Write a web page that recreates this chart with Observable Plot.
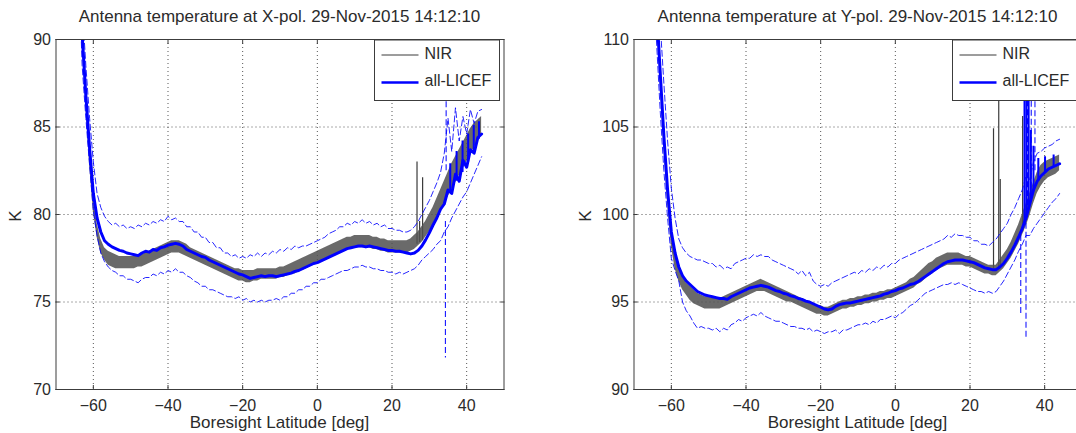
<!DOCTYPE html>
<html>
<head>
<meta charset="utf-8">
<script src="https://cdn.jsdelivr.net/npm/d3@7"></script>
<script src="https://cdn.jsdelivr.net/npm/@observablehq/plot@0.6"></script>
<style>
  body { margin: 0; background: #fff; }
  #wrap { position: relative; width: 1076px; height: 433px; overflow: hidden; font-family: "Liberation Sans", Arial, sans-serif; }
  #wrap svg { position: absolute; top: 0; max-width: none; }
</style>
</head>
<body>
<div id="wrap"></div>
<script>
// ---------- data ----------
const lat = [-64,-63,-62,-61,-60,-59,-58,-57,-56,-55,
  -54,-53,-52,-51,-50,-49,-48,-47,-46,-45,
  -44,-43,-42,-41,-40,-39,-38,-37,-36,-35,
  -34,-33,-32,-31,-30,-29,-28,-27,-26,-25,
  -24,-23,-22,-21,-20,-19,-18,-17,-16,-15,
  -14,-13,-12,-11,-10,-9,-8,-7,-6,-5,
  -4,-3,-2,-1,0,1,2,3,4,5,
  6,7,8,9,10,11,12,13,14,15,
  16,17,18,19,20,21,22,23,24,25,
  26,27,28,29,30,31,32,33,34,35,
  36,37,38,39,40,41,42,43,44];

const xTickValues = [-60, -40, -20, 0, 20, 40];
const xpolTickValues = [70, 75, 80, 85, 90];
const ypolTickValues = [90, 95, 100, 105, 110];

const titles = ["Antenna temperature at X-pol. 29-Nov-2015 14:12:10",
                "Antenna temperature at Y-pol. 29-Nov-2015 14:12:10"];
const xLabel = "Boresight Latitude [deg]";
const yLabel = "K";
const seriesNames = ["NIR", "all-LICEF"];

// X-pol: all-LICEF mean, its dashed upper/lower bounds, NIR noise band (low/high envelope)
const xpolMean = [97,90.3,86.8,83.8,81.2,79.8,79.0,78.5,78.3,78.15,
  78.05,77.95,77.9,77.8,77.75,77.7,77.65,77.8,77.9,77.85,
  78.0,77.95,78.1,78.15,78.25,78.3,78.35,78.3,78.2,78.0,
  77.9,77.8,77.7,77.6,77.55,77.4,77.3,77.2,77.1,77.0,
  76.9,76.8,76.7,76.6,76.55,76.45,76.35,76.4,76.45,76.5,
  76.45,76.5,76.5,76.45,76.5,76.55,76.6,76.65,76.75,76.8,
  76.9,77.0,77.1,77.2,77.25,77.35,77.45,77.55,77.65,77.75,
  77.85,77.95,78.05,78.1,78.15,78.2,78.2,78.15,78.2,78.15,
  78.1,78.05,78.0,77.95,77.95,77.9,77.9,77.85,77.8,77.75,
  77.8,77.95,78.2,78.55,78.95,79.4,79.8,80.3,80.6,81.4,
  81.2,82.3,81.9,83.1,82.7,83.7,83.5,84.4,84.6];
const xpolNirLow = [96.5,90.2,86.2,82.8,80.2,78.7,77.8,77.4,77.1,77.0,
  76.9,76.9,76.9,76.9,76.9,76.9,77.0,77.0,77.1,77.2,
  77.3,77.4,77.5,77.6,77.7,77.8,77.8,77.8,77.7,77.6,
  77.5,77.4,77.3,77.2,77.1,77.0,76.9,76.8,76.7,76.6,
  76.5,76.4,76.3,76.2,76.2,76.1,76.1,76.2,76.2,76.3,
  76.3,76.3,76.3,76.3,76.4,76.4,76.5,76.6,76.6,76.7,
  76.8,76.9,77.0,77.1,77.2,77.3,77.4,77.5,77.6,77.7,
  77.8,77.9,78.0,78.0,78.1,78.1,78.1,78.1,78.1,78.0,
  78.0,77.9,77.9,77.8,77.8,77.8,77.8,77.8,77.8,77.9,
  78.0,78.2,78.4,78.7,79.0,79.4,79.8,80.2,80.6,81.0,
  81.4,81.8,82.2,82.6,83.0,83.4,83.8,84.2,84.5];
const xpolNirHigh = [97.5,90.9,87.0,83.6,81.0,79.5,78.6,78.1,77.9,77.8,
  77.7,77.6,77.6,77.6,77.6,77.6,77.6,77.7,77.8,77.9,
  78.0,78.1,78.2,78.3,78.4,78.5,78.5,78.5,78.4,78.3,
  78.1,78.0,77.9,77.8,77.7,77.6,77.5,77.4,77.3,77.2,
  77.1,77.0,76.9,76.9,76.8,76.8,76.8,76.8,76.9,76.9,
  76.9,76.9,76.9,76.9,77.0,77.0,77.1,77.2,77.3,77.4,
  77.5,77.6,77.7,77.8,77.9,78.0,78.1,78.2,78.3,78.4,
  78.5,78.6,78.7,78.7,78.8,78.8,78.8,78.8,78.8,78.7,
  78.7,78.6,78.6,78.5,78.5,78.5,78.5,78.5,78.5,78.6,
  78.8,79.0,79.3,79.6,80.0,80.4,80.9,81.4,81.9,82.4,
  82.9,83.3,83.7,84.1,84.5,84.9,85.2,85.4,85.6];
const xpolUpper = [98,92,88.5,85.5,83.0,81.2,80.4,79.9,79.6,79.4,
  79.5,79.3,79.4,79.2,79.3,79.2,79.4,79.3,79.5,79.4,
  79.6,79.5,79.7,79.6,79.9,79.7,79.8,79.6,79.6,79.3,
  79.3,79.0,79.0,78.7,78.7,78.4,78.4,78.1,78.1,77.8,
  77.8,77.6,77.7,77.5,77.6,77.5,77.7,77.6,77.8,77.6,
  77.8,77.7,77.9,77.8,78.0,77.9,78.1,78.0,78.2,78.1,
  78.2,78.2,78.3,78.4,78.5,78.6,78.7,78.9,79.0,79.1,
  79.3,79.3,79.5,79.4,79.6,79.5,79.7,79.5,79.6,79.4,
  79.5,79.3,79.4,79.2,79.2,79.1,79.1,79.0,79.0,79.1,
  79.3,79.6,80.0,80.4,80.8,81.3,81.8,82.4,83.5,85.5,
  83.6,86.1,84.2,85.6,84.6,86.0,85.2,85.9,86.0];
const xpolLower = [95,88.5,85.5,82.8,80.2,78.8,77.8,77.3,77.0,76.8,
  76.7,76.5,76.5,76.3,76.3,76.2,76.1,76.3,76.4,76.4,
  76.6,76.5,76.7,76.6,76.8,76.7,76.9,76.7,76.7,76.5,
  76.4,76.2,76.1,75.9,75.9,75.7,75.7,75.6,75.5,75.4,
  75.3,75.3,75.2,75.3,75.1,75.2,75.0,75.1,75.0,75.1,
  75.0,75.1,75.1,75.2,75.1,75.3,75.3,75.5,75.5,75.7,
  75.7,75.9,75.9,76.1,76.1,76.3,76.3,76.4,76.5,76.6,
  76.7,76.8,76.8,76.9,77.0,77.0,77.1,77.0,77.0,76.9,
  76.9,76.8,76.8,76.7,76.7,76.6,76.7,76.6,76.7,76.8,
  76.9,77.1,77.4,77.6,77.8,78.0,78.3,78.5,79.0,79.3,
  79.8,80.2,80.6,81.0,81.3,81.8,82.3,82.8,83.3];
const xpolNirSpikeLat  = [26.7, 27.4, 28.2];
const xpolNirSpikeBase = [78.3, 78.4, 78.5];
const xpolNirSpikeTop  = [83.0, 79.6, 82.1];
const xpolBandSpikeLat  = [34.3, 34.5];
const xpolBandSpikeFrom = [79.6, 82.5];
const xpolBandSpikeTo   = [71.8, 91.0];
const xpolMeanSpikeLat  = [35.6, 37.3, 38.9, 40.4, 41.9, 43.3];
const xpolMeanSpikeBase = [81.3, 81.9, 82.4, 83.0, 83.6, 84.3];
const xpolMeanSpikeTop  = [82.9, 83.6, 84.2, 84.6, 85.1, 85.3];

// Y-pol
const ypolMean = [112,108.2,104.5,101.4,99.0,97.8,97.0,96.5,96.2,96.0,
  95.8,95.6,95.5,95.4,95.35,95.3,95.25,95.2,95.2,95.15,
  95.3,95.4,95.5,95.6,95.7,95.8,95.85,95.9,95.95,95.9,
  95.85,95.75,95.65,95.6,95.5,95.45,95.35,95.3,95.2,95.15,
  95.05,95.0,94.9,94.8,94.7,94.6,94.55,94.6,94.75,94.85,
  94.9,94.95,94.95,95.0,95.05,95.1,95.15,95.2,95.25,95.3,
  95.35,95.45,95.5,95.6,95.65,95.75,95.8,95.9,96.0,96.05,
  96.15,96.3,96.45,96.6,96.75,96.9,97.05,97.2,97.3,97.35,
  97.4,97.4,97.4,97.35,97.3,97.25,97.15,97.05,96.95,96.9,
  96.85,96.85,97.0,97.2,97.5,97.85,98.25,98.7,99.2,99.8,
  100.6,101.4,101.9,102.2,102.4,102.6,102.7,102.8,102.9];
const ypolNirLow = [111.5,107.6,103.8,100.6,98.2,96.9,96.2,95.7,95.4,95.1,
  94.9,94.8,94.7,94.6,94.6,94.6,94.6,94.6,94.7,94.8,
  94.9,95.0,95.1,95.2,95.3,95.4,95.5,95.6,95.6,95.6,
  95.5,95.4,95.3,95.2,95.1,95.0,95.0,94.9,94.8,94.7,
  94.6,94.5,94.4,94.3,94.3,94.2,94.2,94.3,94.4,94.5,
  94.6,94.6,94.7,94.7,94.8,94.8,94.9,94.9,95.0,95.0,
  95.1,95.1,95.2,95.2,95.3,95.4,95.5,95.6,95.7,95.8,
  96.0,96.1,96.3,96.5,96.6,96.8,96.9,97.0,97.1,97.1,
  97.1,97.1,97.1,97.0,97.0,96.9,96.8,96.7,96.6,96.6,
  96.5,96.5,96.7,96.9,97.2,97.5,97.9,98.3,98.8,99.3,
  99.9,100.6,101.2,101.6,101.9,102.1,102.2,102.3,102.5];
const ypolNirHigh = [112.5,108.4,104.6,101.4,99.0,97.7,97.0,96.5,96.1,95.9,
  95.7,95.5,95.4,95.3,95.3,95.2,95.2,95.2,95.3,95.4,
  95.5,95.6,95.7,95.8,95.9,96.0,96.1,96.2,96.3,96.2,
  96.1,96.0,95.9,95.8,95.7,95.6,95.5,95.4,95.3,95.2,
  95.1,95.0,94.9,94.8,94.8,94.7,94.7,94.8,94.9,95.0,
  95.1,95.1,95.2,95.2,95.3,95.3,95.4,95.4,95.5,95.5,
  95.6,95.6,95.7,95.7,95.8,95.9,96.0,96.1,96.3,96.4,
  96.6,96.8,97.0,97.2,97.3,97.5,97.6,97.7,97.8,97.8,
  97.8,97.8,97.7,97.6,97.6,97.5,97.4,97.3,97.2,97.1,
  97.1,97.1,97.4,97.7,98.0,98.4,98.9,99.4,100.0,100.6,
  101.2,101.8,102.4,102.8,103.0,103.1,103.2,103.3,103.4];
const ypolUpper = [114,111,107.5,104.2,101.5,99.8,98.6,98.1,97.8,97.6,
  97.5,97.4,97.4,97.3,97.2,97.2,97.0,97.1,96.9,97.0,
  96.9,97.2,97.3,97.4,97.5,97.5,97.7,97.6,97.7,97.6,
  97.6,97.4,97.3,97.2,97.1,97.0,96.9,96.8,96.6,96.8,
  96.5,96.7,96.2,96.0,95.9,96.0,95.9,96.1,96.2,96.3,
  96.4,96.5,96.6,96.7,96.6,96.8,96.7,96.9,96.8,97.0,
  96.9,97.1,97.0,97.2,97.2,97.4,97.5,97.6,97.7,97.8,
  97.9,98.0,98.1,98.2,98.3,98.4,98.5,98.6,98.8,98.7,
  98.9,98.8,98.8,98.7,98.7,98.5,98.5,98.3,98.3,98.2,
  98.4,98.6,98.9,99.2,99.5,100.0,100.4,100.9,101.4,102.2,
  102.0,103.0,103.5,103.6,103.8,103.9,104.0,104.2,104.3];
const ypolLower = [110,106,102.5,99.8,97.5,96.8,96.2,95.0,94.5,94.2,
  93.8,93.5,93.6,93.5,93.5,93.4,93.5,93.3,93.5,93.4,
  93.7,93.8,94.0,93.9,94.1,94.2,94.3,94.2,94.4,94.2,
  94.1,94.0,93.9,93.9,93.8,93.7,93.6,93.6,93.5,93.5,
  93.4,93.5,93.3,93.4,93.3,93.2,93.3,93.3,93.4,93.2,
  93.4,93.4,93.5,93.6,93.7,93.7,93.8,93.7,93.9,93.8,
  94.0,94.0,94.1,94.2,94.1,94.3,94.4,94.6,94.8,94.9,
  95.1,95.3,95.5,95.6,95.7,95.8,95.9,96.0,96.0,96.1,
  96.0,96.1,96.0,95.9,95.8,95.7,95.6,95.6,95.5,95.6,
  95.5,95.6,95.9,96.2,96.6,97.0,97.4,97.9,98.3,98.8,
  98.8,99.2,99.5,99.8,100.1,100.4,100.7,100.9,101.2];
const ypolNirSpikeLat  = [26.3, 27.7, 28.1, 34.1];
const ypolNirSpikeBase = [96.9, 96.9, 97.0, 99.0];
const ypolNirSpikeTop  = [104.9, 109.0, 102.0, 105.6];
const ypolBandSpikeLat  = [33.6, 35.0, 35.4, 36.4, 37.4];
const ypolBandSpikeFrom = [98.8, 99.5, 100.5, 101.5, 102.5];
const ypolBandSpikeTo   = [94.3, 92.9, 111.0, 111.0, 108.0];
const ypolMeanSpikeLat  = [34.6, 35.1, 35.7, 36.3, 37.0, 38.3, 40.1, 42.4];
const ypolMeanSpikeBase = [99.4, 99.8, 100.3, 100.7, 101.3, 101.9, 102.4, 102.7];
const ypolMeanSpikeTop  = [111.0, 109.0, 106.5, 104.8, 103.9, 103.2, 103.3, 103.4];

// ---------- drawing ----------
const FONT = "'Liberation Sans', Arial, Helvetica, sans-serif";
const BLUE = "#0000ff";
const GRAY = "#3a3a3a";
const TEXT = "#2b2b2b";

function spikes(xs, a, b) { return xs.map((x, i) => ({x, y1: a[i], y2: b[i]})); }

function drawPanel(cfg) {
  const rows = lat.map((x, i) => ({x, lo: cfg.nirLow[i], hi: cfg.nirHigh[i], mean: cfg.mean[i], up: cfg.upper[i], dn: cfg.lower[i]}));
  const fL = cfg.marginLeft, fR = cfg.width - cfg.marginRight;
  const fT = 39, fB = 389;
  const dashed = {stroke: BLUE, strokeWidth: 1, strokeDasharray: "6,3", strokeOpacity: 0.85, clip: true};
  const plot = Plot.plot({
    width: cfg.width, height: 433,
    marginLeft: cfg.marginLeft, marginRight: cfg.marginRight, marginTop: fT, marginBottom: 433 - fB,
    style: {fontFamily: FONT, fontSize: "16px", color: TEXT, background: "transparent"},
    x: {domain: [-70, 50]},
    y: {domain: cfg.yDomain},
    marks: [
      Plot.gridX(xTickValues, {stroke: "#444", strokeOpacity: 0.9, strokeDasharray: "1,3"}),
      Plot.gridY(cfg.yTicks, {stroke: "#444", strokeOpacity: 0.9, strokeDasharray: "1,3"}),
      Plot.ruleX(spikes(cfg.nirSpikeLat, cfg.nirSpikeBase, cfg.nirSpikeTop), {x: "x", y1: "y1", y2: "y2", stroke: GRAY, strokeWidth: 1.2, clip: true}),
      Plot.areaY(rows, {x: "x", y1: "lo", y2: "hi", fill: "#505050", fillOpacity: 0.85, clip: true}),
      Plot.lineY(rows, {x: "x", y: "up", ...dashed}),
      Plot.lineY(rows, {x: "x", y: "dn", ...dashed}),
      Plot.ruleX(spikes(cfg.bandSpikeLat, cfg.bandSpikeFrom, cfg.bandSpikeTo), {x: "x", y1: "y1", y2: "y2", ...dashed, strokeOpacity: 1}),
      Plot.ruleX(spikes(cfg.meanSpikeLat, cfg.meanSpikeBase, cfg.meanSpikeTop), {x: "x", y1: "y1", y2: "y2", stroke: BLUE, strokeWidth: 2, clip: true}),
      Plot.lineY(rows, {x: "x", y: "mean", stroke: BLUE, strokeWidth: 3, clip: true}),
      Plot.frame({stroke: "#3c3c3c", strokeWidth: 1}),
      Plot.axisX(xTickValues, {tickSize: 0, tickPadding: 10, label: null, fill: TEXT}),
      Plot.axisX(xTickValues, {tickSize: -4, tickFormat: () => "", label: null, stroke: "#3c3c3c"}),
      Plot.axisX(xTickValues, {anchor: "top", tickSize: -4, tickFormat: () => "", label: null, stroke: "#3c3c3c"}),
      Plot.axisY(cfg.yTicks, {tickSize: 0, tickPadding: 5, label: null, fill: TEXT}),
      Plot.axisY(cfg.yTicks, {tickSize: -4, tickFormat: () => "", label: null, stroke: "#3c3c3c"}),
      Plot.axisY(cfg.yTicks, {anchor: "right", tickSize: -4, tickFormat: () => "", label: null, stroke: "#3c3c3c"})
    ]
  });
  const svg = d3.select(plot);
  const addText = (x, y, size, str, anchor) => svg.append("text")
    .attr("x", x).attr("y", y).attr("text-anchor", anchor).attr("font-size", size)
    .attr("fill", TEXT).attr("font-family", FONT).text(str);
  addText((fL + fR) / 2, 22, 17, cfg.title, "middle");
  addText((fL + fR) / 2, 428, 17, xLabel, "middle");
  svg.append("text")
    .attr("transform", `translate(${cfg.yLabelX},216) rotate(-90)`)
    .attr("text-anchor", "middle").attr("font-size", 17).attr("fill", TEXT)
    .attr("font-family", FONT).text(yLabel);
  // legend
  const lw = 125, lh = 60.5, lx = fR - 4 - lw, ly = 40;
  svg.append("rect").attr("x", lx).attr("y", ly).attr("width", lw).attr("height", lh)
    .attr("fill", "#fff").attr("stroke", "#3c3c3c").attr("stroke-width", 1);
  svg.append("line").attr("x1", lx + 7).attr("x2", lx + 44).attr("y1", ly + 15).attr("y2", ly + 15)
    .attr("stroke", GRAY).attr("stroke-width", 1);
  svg.append("line").attr("x1", lx + 7).attr("x2", lx + 44).attr("y1", ly + 42.5).attr("y2", ly + 42.5)
    .attr("stroke", BLUE).attr("stroke-width", 2.6);
  addText(lx + 50, ly + 18.5, 16, seriesNames[0], "start");
  addText(lx + 50, ly + 46, 16, seriesNames[1], "start");
  plot.style.left = cfg.left + "px";
  document.getElementById("wrap").appendChild(plot);
}

drawPanel({
  left: 0, width: 540, marginLeft: 55.5, marginRight: 36.5,
  yDomain: [70, 90], yTicks: xpolTickValues, yLabelX: 20.5,
  nirLow: xpolNirLow, nirHigh: xpolNirHigh, mean: xpolMean, upper: xpolUpper, lower: xpolLower,
  nirSpikeLat: xpolNirSpikeLat, nirSpikeBase: xpolNirSpikeBase, nirSpikeTop: xpolNirSpikeTop,
  bandSpikeLat: xpolBandSpikeLat, bandSpikeFrom: xpolBandSpikeFrom, bandSpikeTo: xpolBandSpikeTo,
  meanSpikeLat: xpolMeanSpikeLat, meanSpikeBase: xpolMeanSpikeBase, meanSpikeTop: xpolMeanSpikeTop,
  title: titles[0]
});
drawPanel({
  left: 540, width: 560, marginLeft: 93.5, marginRight: 18.5,
  yDomain: [90, 110], yTicks: ypolTickValues, yLabelX: 51.3,
  nirLow: ypolNirLow, nirHigh: ypolNirHigh, mean: ypolMean, upper: ypolUpper, lower: ypolLower,
  nirSpikeLat: ypolNirSpikeLat, nirSpikeBase: ypolNirSpikeBase, nirSpikeTop: ypolNirSpikeTop,
  bandSpikeLat: ypolBandSpikeLat, bandSpikeFrom: ypolBandSpikeFrom, bandSpikeTo: ypolBandSpikeTo,
  meanSpikeLat: ypolMeanSpikeLat, meanSpikeBase: ypolMeanSpikeBase, meanSpikeTop: ypolMeanSpikeTop,
  title: titles[1]
});
</script>
</body>
</html>
